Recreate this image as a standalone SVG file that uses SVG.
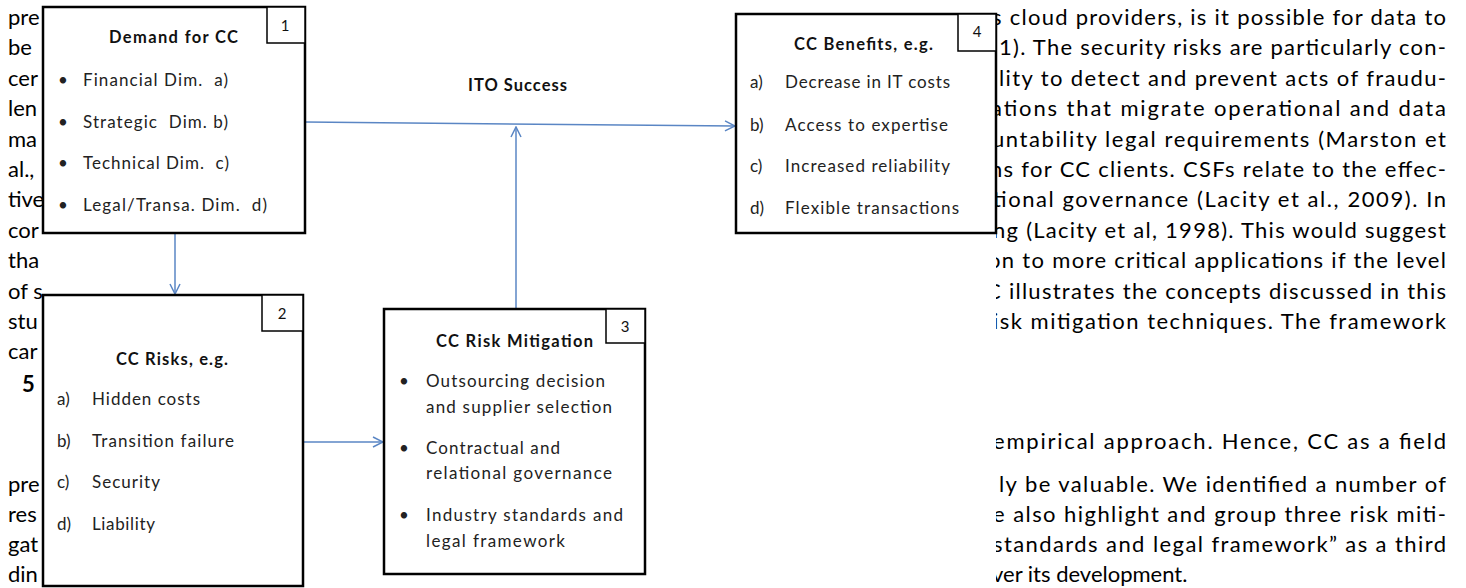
<svg xmlns="http://www.w3.org/2000/svg" width="1466" height="588" viewBox="0 0 1466 588">
  <style>
    .body { font-family: Lato, "Liberation Sans", sans-serif; font-size: 22px; fill: #000; }
    .head { font-family: Lato, "Liberation Sans", sans-serif; font-size: 22px; font-weight: bold; fill: #000; }
    .box { fill: #fff; stroke: #000; stroke-width: 2.5; }
    .tag { fill: #fff; stroke: #000; stroke-width: 1.5; }
    .num { font-family: Lato, "Liberation Sans", sans-serif; font-size: 15px; fill: #111; text-anchor: middle; }
    .title { font-family: Lato, "Liberation Sans", sans-serif; font-size: 16.5px; font-weight: bold; fill: #111; text-anchor: middle; }
    .item { font-family: Lato, "Liberation Sans", sans-serif; font-size: 17px; fill: #222; }
    .conn { fill: none; stroke: #5a86c4; stroke-width: 1.5; }
  </style>
  <defs>
    <marker id="arrow" viewBox="0 0 12 12" refX="11" refY="6" markerWidth="12" markerHeight="12" markerUnits="userSpaceOnUse" orient="auto">
      <path d="M1,1 L11,6 L1,11" fill="none" stroke="#5a86c4" stroke-width="1.5"/>
    </marker>
    <clipPath id="leftCol"><rect x="0" y="0" width="43" height="588"/></clipPath>
    <clipPath id="rightCol"><rect x="996" y="0" width="470" height="588"/></clipPath>
  </defs>

  <rect width="1466" height="588" fill="#fff"/>

  <!-- surrounding page text, left margin -->
  <g id="page-left" clip-path="url(#leftCol)">
    <text class="body" x="8" y="25">pre</text>
    <text class="body" x="8" y="55.4">be</text>
    <text class="body" x="8" y="85.8">cer</text>
    <text class="body" x="8" y="116.2">len</text>
    <text class="body" x="8" y="146.6">ma</text>
    <text class="body" x="8" y="177">al.,</text>
    <text class="body" x="8" y="207.4">tive</text>
    <text class="body" x="8" y="237.8">cor</text>
    <text class="body" x="8" y="268.2">tha</text>
    <text class="body" x="8" y="298.6">of s</text>
    <text class="body" x="8" y="329">stu</text>
    <text class="body" x="8" y="359.4">car</text>
    <text class="head" x="22" y="392">5</text>
    <text class="body" x="8" y="492">pre</text>
    <text class="body" x="8" y="522">res</text>
    <text class="body" x="8" y="552">gat</text>
    <text class="body" x="8" y="582">din</text>
  </g>

  <!-- surrounding page text, right column -->
  <g id="page-right" clip-path="url(#rightCol)">
    <text class="body" x="992" y="25" textLength="454" lengthAdjust="spacing">s cloud providers, is it possible for data to</text>
    <text class="body" x="999" y="55.4" textLength="447" lengthAdjust="spacing">1). The security risks are particularly con-</text>
    <text class="body" x="999" y="85.8" textLength="447" lengthAdjust="spacing">lity to detect and prevent acts of fraudu-</text>
    <text class="body" x="991" y="116.2" textLength="455" lengthAdjust="spacing">ations that migrate operational and data</text>
    <text class="body" x="992" y="146.6" textLength="454" lengthAdjust="spacing">untability legal requirements (Marston et</text>
    <text class="body" x="990" y="177" textLength="456" lengthAdjust="spacing">ns for CC clients. CSFs relate to the effec-</text>
    <text class="body" x="993" y="207.4" textLength="453" lengthAdjust="spacing">tional governance (Lacity et al., 2009). In</text>
    <text class="body" x="993" y="237.8" textLength="453" lengthAdjust="spacing">ng (Lacity et al, 1998). This would suggest</text>
    <text class="body" x="988" y="268.2" textLength="458" lengthAdjust="spacing">on to more critical applications if the level</text>
    <text class="body" x="986" y="298.6" textLength="460" lengthAdjust="spacing">C illustrates the concepts discussed in this</text>
    <text class="body" x="993" y="329" textLength="453" lengthAdjust="spacing">isk mitigation techniques. The framework</text>
    <text class="body" x="993" y="449" textLength="453" lengthAdjust="spacing">empirical approach. Hence, CC as a field</text>
    <text class="body" x="999" y="492" textLength="447" lengthAdjust="spacing">ly be valuable. We identified a number of</text>
    <text class="body" x="993" y="522" textLength="453" lengthAdjust="spacing">e also highlight and group three risk miti-</text>
    <text class="body" x="993" y="552" textLength="453" lengthAdjust="spacing">standards and legal framework” as a third</text>
    <text class="body" x="992" y="582">ver its development.</text>
  </g>

  <!-- arrows between the framework blocks -->
  <g id="connectors">
    <line class="conn" x1="305" y1="122" x2="735" y2="126" marker-end="url(#arrow)"/>
    <line class="conn" x1="516" y1="309" x2="516" y2="127" marker-end="url(#arrow)"/>
    <line class="conn" x1="175" y1="233" x2="175" y2="294" marker-end="url(#arrow)"/>
    <line class="conn" x1="303" y1="442" x2="383" y2="442" marker-end="url(#arrow)"/>
  </g>

  <g id="ito-success">
    <text class="title" x="517.5" y="91" textLength="99" lengthAdjust="spacing">ITO Success</text>
  </g>

  <!-- 1: demand -->
  <g id="node-demand">
    <rect class="box" x="43" y="7" width="262" height="226"/>
    <rect class="tag" x="267" y="7" width="38" height="36"/>
    <text class="num" x="285" y="31">1</text>
    <text class="title" x="173.5" y="43" textLength="129" lengthAdjust="spacing">Demand for CC</text>
    <text class="item" x="58" y="86">•</text>
    <text class="item" x="83" y="86" textLength="145" lengthAdjust="spacing">Financial Dim.&#160;&#160;a)</text>
    <text class="item" x="58" y="128">•</text>
    <text class="item" x="83" y="128" textLength="145" lengthAdjust="spacing">Strategic&#160;&#160;Dim. b)</text>
    <text class="item" x="58" y="169">•</text>
    <text class="item" x="83" y="169" textLength="146" lengthAdjust="spacing">Technical Dim.&#160;&#160;c)</text>
    <text class="item" x="58" y="211">•</text>
    <text class="item" x="83" y="211" textLength="184" lengthAdjust="spacing">Legal/Transa. Dim.&#160;&#160;d)</text>
  </g>

  <!-- 2: risks -->
  <g id="node-risks">
    <rect class="box" x="43" y="295" width="260" height="291"/>
    <rect class="tag" x="262" y="295" width="41" height="36"/>
    <text class="num" x="282" y="319">2</text>
    <text class="title" x="172" y="365" textLength="112" lengthAdjust="spacing">CC Risks, e.g.</text>
    <text class="item" x="57" y="405">a)</text>
    <text class="item" x="92" y="405" textLength="108" lengthAdjust="spacing">Hidden costs</text>
    <text class="item" x="57" y="447">b)</text>
    <text class="item" x="92" y="447" textLength="142" lengthAdjust="spacing">Transition failure</text>
    <text class="item" x="57" y="488">c)</text>
    <text class="item" x="92" y="488" textLength="68" lengthAdjust="spacing">Security</text>
    <text class="item" x="57" y="530">d)</text>
    <text class="item" x="92" y="530" textLength="63" lengthAdjust="spacing">Liability</text>
  </g>

  <!-- 3: mitigation -->
  <g id="node-mitigation">
    <rect class="box" x="384" y="309" width="261" height="265"/>
    <rect class="tag" x="606" y="309" width="39" height="34"/>
    <text class="num" x="625" y="332">3</text>
    <text class="title" x="514.5" y="347" textLength="157" lengthAdjust="spacing">CC Risk Mitigation</text>
    <text class="item" x="399" y="387">•</text>
    <text class="item" x="426" y="387" textLength="179" lengthAdjust="spacing">Outsourcing decision</text>
    <text class="item" x="426" y="413" textLength="186" lengthAdjust="spacing">and supplier selection</text>
    <text class="item" x="399" y="454">•</text>
    <text class="item" x="426" y="454" textLength="134" lengthAdjust="spacing">Contractual and</text>
    <text class="item" x="426" y="479" textLength="186" lengthAdjust="spacing">relational governance</text>
    <text class="item" x="399" y="521">•</text>
    <text class="item" x="426" y="521" textLength="197" lengthAdjust="spacing">Industry standards and</text>
    <text class="item" x="426" y="547" textLength="139" lengthAdjust="spacing">legal framework</text>
  </g>

  <!-- 4: benefits -->
  <g id="node-benefits">
    <rect class="box" x="736" y="14" width="260" height="219"/>
    <rect class="tag" x="958" y="14" width="38" height="37"/>
    <text class="num" x="977" y="37">4</text>
    <text class="title" x="863.5" y="50" textLength="139" lengthAdjust="spacing">CC Benefits, e.g.</text>
    <text class="item" x="750" y="88">a)</text>
    <text class="item" x="785" y="88" textLength="165" lengthAdjust="spacing">Decrease in IT costs</text>
    <text class="item" x="750" y="131">b)</text>
    <text class="item" x="785" y="131" textLength="163" lengthAdjust="spacing">Access to expertise</text>
    <text class="item" x="750" y="172">c)</text>
    <text class="item" x="785" y="172" textLength="165" lengthAdjust="spacing">Increased reliability</text>
    <text class="item" x="750" y="214">d)</text>
    <text class="item" x="785" y="214" textLength="174" lengthAdjust="spacing">Flexible transactions</text>
  </g>
</svg>
